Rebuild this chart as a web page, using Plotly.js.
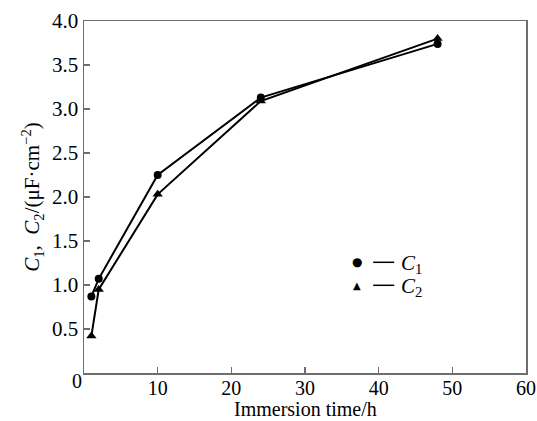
<!DOCTYPE html>
<html>
<head>
<meta charset="utf-8">
<script src="https://cdn.plot.ly/plotly-3.0.1.min.js"></script>
<style>html,body{margin:0;padding:0;background:#fff;}#chart{width:537px;height:421px;}</style>
</head>
<body>
<div id="chart"></div>
<script>
// Data
var timeH = [1, 2, 10, 24, 48];
var c1 = [0.87, 1.07, 2.25, 3.13, 3.74];
var c2 = [0.42, 0.95, 2.03, 3.09, 3.80];
var xTicks = [10, 20, 30, 40, 50, 60];
var yTicks = [0.5, 1.0, 1.5, 2.0, 2.5, 3.0, 3.5, 4.0];
var yTickText = ['0.5', '1.0', '1.5', '2.0', '2.5', '3.0', '3.5', '4.0'];
var xTitle = 'Immersion time/h';

var FONT = 'Liberation Serif, Times New Roman, serif';
var axisCol = '#6e6e6e';

var traces = [
  {x: timeH, y: c1, mode: 'lines+markers', name: 'C1',
   line: {color: '#000', width: 2}, marker: {symbol: 'circle', size: 8, color: '#000'}},
  {x: timeH, y: c2, mode: 'lines+markers', name: 'C2',
   line: {color: '#000', width: 2}, marker: {symbol: 'triangle-up', size: 9, color: '#000'}}
];

function px2x(p){ return (p - 84) / 441.7; }
function px2y(p){ return (372.7 - p) / 352; }

var legRows = [{y: 262, glyph: '●', sub: '1', gs: 12}, {y: 285, glyph: '▲', sub: '2', gs: 10}];
var annotations = [
  {xref: 'paper', yref: 'paper', x: px2x(77), y: px2y(381), text: '0', showarrow: false,
   font: {family: FONT, size: 20, color: '#000'}, xanchor: 'center', yanchor: 'middle'},
  {xref: 'paper', yref: 'paper', x: 0.5, y: px2y(421), text: xTitle, showarrow: false,
   font: {family: FONT, size: 20, color: '#000'}, xanchor: 'center', yanchor: 'bottom', borderpad: 0}
];
var shapes = [];
legRows.forEach(function(r){
  annotations.push({xref: 'paper', yref: 'paper', x: px2x(357), y: px2y(r.y), text: r.glyph, showarrow: false,
    font: {family: 'DejaVu Sans', size: r.gs, color: '#000'}, xanchor: 'center', yanchor: 'middle'});
  shapes.push({type: 'line', xref: 'paper', yref: 'paper', x0: px2x(373), x1: px2x(394), y0: px2y(r.y), y1: px2y(r.y),
    line: {color: '#000', width: 1.5}});
  annotations.push({xref: 'paper', yref: 'paper', x: px2x(399), y: px2y(r.y + 2), text: '<i>C</i><sub>' + r.sub + '</sub>', showarrow: false,
    font: {family: FONT, size: 21, color: '#000'}, xanchor: 'left', yanchor: 'middle'});
});

var layout = {
  width: 537, height: 421,
  margin: {l: 84, r: 11, t: 21, b: 48},
  paper_bgcolor: '#fff', plot_bgcolor: '#fff',
  showlegend: false,
  font: {family: FONT, size: 20, color: '#000'},
  xaxis: {
    range: [0, 60], tickvals: xTicks, ticks: 'inside', ticklen: 6, tickcolor: axisCol, tickwidth: 1.2,
    showline: true, linecolor: axisCol, linewidth: 1.5, mirror: true, showgrid: false, zeroline: false,
    ticklabelstandoff: -4,
    tickfont: {family: FONT, size: 20, color: '#000'}
  },
  yaxis: {
    range: [0, 4], tickvals: yTicks, ticktext: yTickText, ticks: 'inside', ticklen: 6, tickcolor: axisCol, tickwidth: 1.2,
    showline: true, linecolor: axisCol, linewidth: 1.5, mirror: true, showgrid: false, zeroline: false,
    tickfont: {family: FONT, size: 21, color: '#000'},
    title: {text: '<i>C</i><sub>1</sub>,  <i>C</i><sub>2</sub>/(μF·cm<sup>−2</sup>)', font: {family: FONT, size: 21, color: '#000'}, standoff: 6}
  },
  annotations: annotations,
  shapes: shapes
};

Plotly.newPlot('chart', traces, layout, {displayModeBar: false, staticPlot: true});
</script>
</body>
</html>
